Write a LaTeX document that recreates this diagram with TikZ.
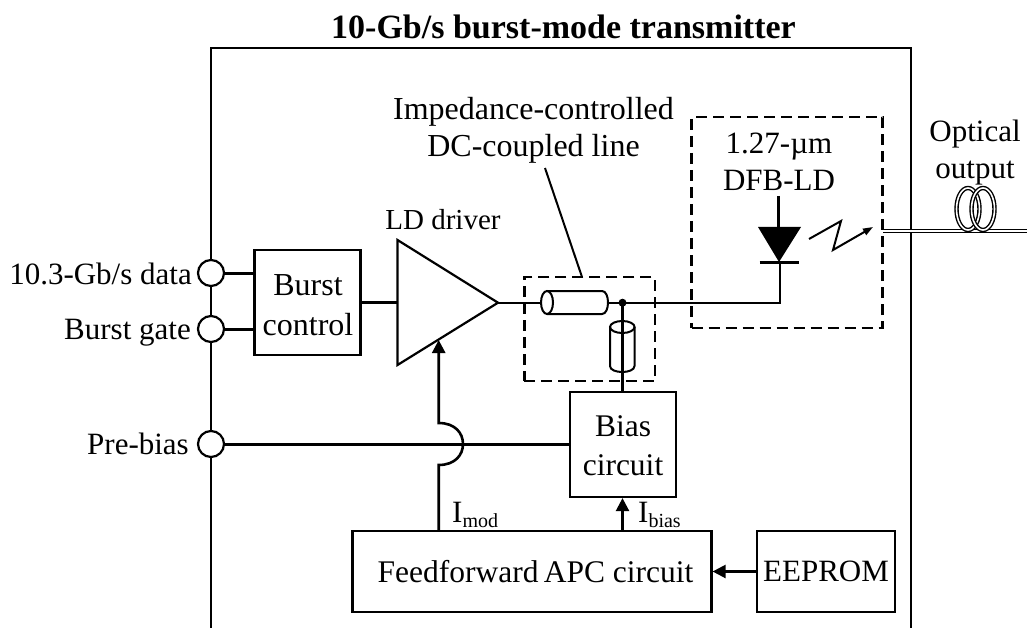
\documentclass[tikz,border=0pt]{standalone}
\usepackage{fontspec}
\setmainfont{Liberation Serif}
\usetikzlibrary{arrows.meta,calc}
\tikzset{
 x=1pt,y=-1pt,
 txt/.style={inner sep=0pt,font=\fontsize{31}{37}\selectfont,align=center},
 box/.style={draw,line width=2.2pt,fill=white,inner sep=0pt,font=\fontsize{31}{40}\selectfont,align=center},
 port/.style={draw,circle,line width=2.2pt,fill=white,minimum size=26pt,inner sep=0pt},
 wire/.style={line width=3pt},
 thin wire/.style={line width=2.2pt},
 dash box/.style={draw,line width=2.2pt,dash pattern=on 11pt off 6pt},
 tip/.style={-{Triangle[length=13pt,width=13pt]}},
 cyl/.style={line width=2pt,fill=white},
}
\newcommand{\subtxt}[1]{\raisebox{-5pt}{\fontsize{20}{20}\selectfont #1}}
\begin{document}
\begin{tikzpicture}
\useasboundingbox (0,0) rectangle (1027,628);
% enclosure
\coordinate (encTL) at (211,48); \coordinate (encTR) at (911,48);
\coordinate (encBL) at (211,628); \coordinate (encBR) at (911,628);
\draw[thin wire] (encBL) -- (encTL) -- (encTR) -- (encBR);
\node[txt,anchor=base,font=\fontsize{34}{36}\selectfont\bfseries] (title) at (563.5,39) {10-Gb/s burst-mode transmitter};
% fiber
\coordinate (fibL) at (883,231); \coordinate (fibR) at (1027,231);
\draw[double=white,double distance=1.6pt,line width=1.4pt] (fibL) -- (fibR);
\foreach \cx in {968,983}{
 \draw[double=white,double distance=1.6pt,line width=1.4pt] (\cx,209) ellipse [x radius=11.5,y radius=21];
}
\node[txt] (optical) at (975,153) {Optical\\output};
% ports
\node[port] (p1) at (211,273) {};
\node[port] (p2) at (211,329) {};
\node[port] (p3) at (211,444) {};
\node[txt,anchor=base east] (l1) at (192,284) {10.3-Gb/s data};
\node[txt,anchor=base east] (l2) at (191,339) {Burst gate};
\node[txt,anchor=base east] (l3) at (189,454) {Pre-bias};
% blocks
\node[box,minimum width=106pt,minimum height=105pt] (burst) at (307.5,302.5) {};
\node[txt,font=\fontsize{32}{40}\selectfont] (bursttxt) at (308,305) {Burst\\control};
\node[box,minimum width=106pt,minimum height=105pt] (bias) at (623,444.5) {};
\node[txt,font=\fontsize{31.5}{39}\selectfont] (biastxt) at (623,446) {Bias\\circuit};
\node[box,minimum width=359pt,minimum height=81pt] (ff) at (532,571.5) {};
\node[txt,font=\fontsize{31.5}{37}\selectfont] (fftxt) at (535.5,572) {Feedforward\,APC circuit};
\node[box,minimum width=138pt,minimum height=81pt] (ee) at (826,571.5) {EEPROM};
% driver
\coordinate (tA) at (397.5,240); \coordinate (tB) at (397.5,365); \coordinate (tC) at (498,302.7);
\draw[line width=2.2pt,line join=miter] (tA) -- (tC) -- (tB) -- cycle;
\node[txt,anchor=base,font=\fontsize{29}{36}\selectfont] (ld) at (443,230) {LD driver};
% wires left
\draw[wire] (p1) -- (p1 -| burst.west);
\draw[wire] (p2) -- (p2 -| burst.west);
\draw[wire] (burst.east |- tC) -- (tA |- tC);
% pre-bias with hop
\coordinate (j) at (438.7,444);
\draw[wire] (p3) -- (p3 -| bias.west);
\coordinate (ffT) at (j |- ff.north);
\coordinate (tipD) at (438.7,340);
\draw[line width=2.6pt,tip] (ffT) -- (438.7,465) .. controls (455,465) and (463,455) .. (463,444) .. controls (463,433) and (455,423) .. (438.7,423) -- (tipD);
% bias arrows
\coordinate (bT) at (622.5,531);
\draw[line width=2.4pt,tip] (bT) -- (bT |- bias.south);
\draw[line width=2.4pt,tip] (ee.west) -- (ff.east);
\node[txt,anchor=base west] (imod) at (452,522) {I\subtxt{mod}};
\node[txt,anchor=base west] (ibias) at (638,522) {I\subtxt{bias}};
% signal line
\coordinate (dot) at (622.5,302.7);
\coordinate (an) at (779.7,262);
\draw[thin wire,line width=2.4pt] (tC) -- (an |- tC) -- (an);
\draw[line width=3pt] (dot) -- (bias.north -| dot);
% horizontal cylinder
\fill[white] (547,291) rectangle (604,314);
\draw[cyl] (547,291) -- (602,291) .. controls (610,291) and (610,314) .. (602,314) -- (547,314);
\draw[cyl] (547,302.5) ellipse [x radius=6,y radius=11.5];
% vertical cylinder
\draw[line width=2pt] (610,327) -- (610,366) .. controls (610,374) and (634.5,374) .. (634.5,366) -- (634.5,327);
\draw[line width=2pt] (622.3,327) ellipse [x radius=12.3,y radius=6];
\fill (dot) circle (4);
% dashed boxes
\node[dash box,minimum width=130.5pt,minimum height=104pt,inner sep=0pt] (tl) at (589.7,329) {};
\node[dash box,minimum width=191pt,minimum height=211pt,inner sep=0pt] (dfb) at (787,222.5) {};
\coordinate (leadTop) at (545,168);
\draw[line width=2pt] (leadTop) -- (582,277);
\node[txt,font=\fontsize{32}{37}\selectfont] (imp) at (533.5,130) {Impedance-controlled\\DC-coupled line};
\node[txt] (dfbt) at (779,162) {1.27-µm\\DFB-LD};
% diode
\coordinate (dk) at (779,262);
\fill (758,227) -- (801,227) -- (dk) -- cycle;
\draw[line width=3pt] (759.5,262) -- (799,262);
\draw[line width=3pt] (778.5,196) -- (778.5,228);
% light
\coordinate (z1) at (809,239); \coordinate (z2) at (841,221); \coordinate (z3) at (833,250); \coordinate (z4) at (873,227);
\draw[line width=2pt,-{Triangle[length=10pt,width=7pt]}] (z1) -- (z2) -- (z3) -- (z4);
\end{tikzpicture}
\end{document}
